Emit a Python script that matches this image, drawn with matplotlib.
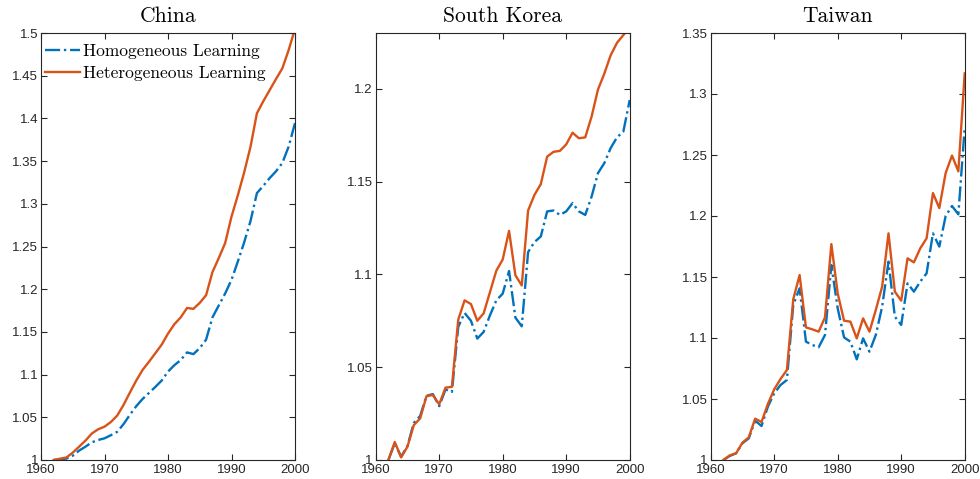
import matplotlib
matplotlib.use("Agg")
import matplotlib.pyplot as plt
from matplotlib.ticker import FuncFormatter
import numpy as np

# years 1962-2000
years = np.arange(1962, 2001)

# China
china_homo = [1.0, 1.0008, 1.0016, 1.005, 1.011, 1.0156, 1.0207, 1.0234, 1.0254, 1.029,
              1.033, 1.042, 1.053, 1.063, 1.0715, 1.0785, 1.0855, 1.093, 1.1035, 1.111,
              1.117, 1.126, 1.124, 1.131, 1.141, 1.167, 1.181, 1.195, 1.211, 1.2325,
              1.255, 1.28, 1.3125, 1.321, 1.33, 1.338, 1.3477, 1.367, 1.3945]
china_hete = [1.0, 1.0015, 1.003, 1.0086, 1.0156, 1.0227, 1.031, 1.036, 1.039, 1.0445,
              1.052, 1.0645, 1.079, 1.093, 1.1055, 1.115, 1.125, 1.135, 1.148, 1.159,
              1.167, 1.178, 1.177, 1.184, 1.193, 1.220, 1.2365, 1.254, 1.285, 1.31,
              1.337, 1.367, 1.406, 1.42, 1.433, 1.446, 1.4585, 1.48, 1.505]

# South Korea
korea_homo = [1.0, 1.009, 1.0018, 1.0075, 1.02, 1.0237, 1.0346, 1.0355, 1.029, 1.038,
              1.0367, 1.0717, 1.0792, 1.075, 1.0654, 1.069, 1.078, 1.086, 1.0896, 1.1018,
              1.0767, 1.072, 1.112, 1.1174, 1.1204, 1.1339, 1.1344, 1.132, 1.1339, 1.1384,
              1.1339, 1.132, 1.1419, 1.1545, 1.1599, 1.168, 1.1738, 1.1769, 1.1939]
korea_hete = [1.0, 1.0097, 1.0014, 1.0072, 1.0188, 1.0224, 1.0344, 1.035, 1.030, 1.039,
              1.0394, 1.0756, 1.086, 1.084, 1.075, 1.079, 1.0905, 1.102, 1.108, 1.1234,
              1.0995, 1.094, 1.1344, 1.1428, 1.1486, 1.1634, 1.166, 1.1665, 1.170, 1.1763,
              1.1733, 1.1738, 1.185, 1.1995, 1.2081, 1.218, 1.2247, 1.2289, 1.233]

# Taiwan
taiwan_homo = [1.0, 1.0033, 1.0055, 1.0137, 1.0178, 1.0322, 1.0279, 1.0437, 1.0546, 1.0615,
               1.0656, 1.1271, 1.1407, 1.097, 1.0943, 1.0924, 1.1025, 1.1598, 1.1243, 1.1005,
               1.097, 1.0825, 1.0997, 1.0888, 1.1025, 1.1257, 1.1626, 1.1175, 1.1107, 1.1448,
               1.138, 1.1462, 1.153, 1.1858, 1.1749, 1.2, 1.2082, 1.2014, 1.2723]
taiwan_hete = [1.0, 1.0038, 1.0055, 1.0142, 1.0186, 1.0339, 1.0311, 1.0459, 1.0579, 1.0664,
               1.0738, 1.1317, 1.1516, 1.1087, 1.1071, 1.1052, 1.1169, 1.177, 1.1366, 1.1142,
               1.1134, 1.0997, 1.1161, 1.1052, 1.123, 1.1421, 1.1858, 1.138, 1.1306, 1.1653,
               1.162, 1.1735, 1.1817, 1.2188, 1.2065, 1.2352, 1.2495, 1.2366, 1.3169]

titles = ["China", "South Korea", "Taiwan"]
homo = [china_homo, korea_homo, taiwan_homo]
hete = [china_hete, korea_hete, taiwan_hete]
ylims = [(1, 1.5), (1, 1.23), (1, 1.35)]
yticks = [np.arange(1, 1.501, 0.05), np.arange(1, 1.201, 0.05), np.arange(1, 1.351, 0.05)]

blue = "#0072BD"
red = "#D95319"
ink = "#262626"

plt.rcParams["font.family"] = ["Liberation Sans", "DejaVu Sans"]

fig = plt.figure(figsize=(9.8, 4.79), dpi=100)
lefts = [41 / 980, 375.7 / 980, 710.7 / 980]
width = 254 / 980
bottom = 1 - 460 / 479
height = (460 - 33) / 479

fmt = FuncFormatter(lambda v, p: "%g" % round(v, 4))

for i in range(3):
    ax = fig.add_axes([lefts[i], bottom, width, height])
    ax.plot(years, homo[i], color=blue, linestyle="-.", linewidth=1.7,
            label="Homogeneous Learning")
    ax.plot(years, hete[i], color=red, linestyle="-", linewidth=1.7,
            label="Heterogeneous Learning")
    ax.set_xlim(1960, 2000)
    ax.set_ylim(*ylims[i])
    ax.set_xticks([1960, 1970, 1980, 1990, 2000])
    ax.set_yticks(yticks[i])
    ax.yaxis.set_major_formatter(fmt)
    ax.tick_params(direction="in", top=True, right=True, length=4, width=0.8,
                   labelsize=9.5, colors=ink)
    ax.tick_params(axis="x", pad=3)
    ax.tick_params(axis="y", pad=2)
    for s in ax.spines.values():
        s.set_color(ink)
        s.set_linewidth(0.8)
    ax.set_title(titles[i], fontfamily="cmr10", fontsize=15.5, pad=8)
    if i == 0:
        ax.legend(loc="upper left", bbox_to_anchor=(0.002, 0.982), frameon=False,
                  prop={"family": "cmr10", "size": 12.5},
                  handlelength=2.0, handletextpad=0.2, labelspacing=0.35,
                  borderaxespad=0, borderpad=0.2)

fig.savefig("out.png", dpi=100)
